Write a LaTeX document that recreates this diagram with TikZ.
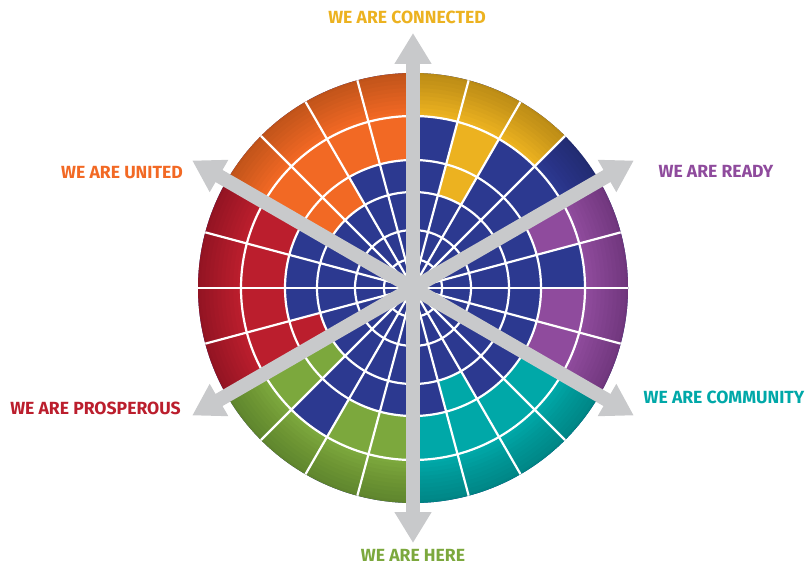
\documentclass[tikz,border=0pt]{standalone}
\usepackage{fontspec}
\setmainfont{Fira Sans}
\usetikzlibrary{arrows.meta}
\definecolor{wblue}{RGB}{44,57,144}
\definecolor{cyel}{RGB}{236,178,32}
\definecolor{corg}{RGB}{242,105,36}
\definecolor{cred}{RGB}{187,30,45}
\definecolor{cgrn}{RGB}{124,168,61}
\definecolor{cteal}{RGB}{0,168,168}
\definecolor{cpur}{RGB}{143,75,157}
\definecolor{agray}{RGB}{200,201,203}
\def\wcell#1#2#3#4{\fill[#1] (#4:#2) arc[start angle=#4, end angle=#4+15, radius=#2] -- ({#4+15}:#3) arc[start angle=#4+15, end angle=#4, radius=#3] -- cycle;}
\begin{document}
\begin{tikzpicture}[x=1pt,y=1pt,
  lab/.style={font=\bfseries\fontsize{17.6}{20}\selectfont, inner sep=0pt},
  grid/.style={draw=white, line width=2.2pt},
  arr/.style={draw=agray, line width=14pt, {Triangle[length=31pt,width=35pt]}-{Triangle[length=31pt,width=35pt]}}]
\useasboundingbox (0,0) rectangle (810,-567);
\begin{scope}[shift={(413,-288)}]
  \fill[wblue] (0,0) circle[radius=215];
  % yellow
  \foreach \a in {45,60,75} {\wcell{cyel}{172}{215}{\a}}
  \wcell{cyel}{128}{172}{60}
  \wcell{cyel}{96}{128}{60}
  % orange
  \foreach \a in {90,105,120,135} {\wcell{corg}{172}{215}{\a}\wcell{corg}{128}{172}{\a}}
  \foreach \a in {120,135} {\wcell{corg}{96}{128}{\a}}
  % red
  \foreach \a in {150,165,180,195} {\wcell{cred}{172}{215}{\a}\wcell{cred}{128}{172}{\a}}
  \wcell{cred}{96}{128}{195}
  % green
  \foreach \a in {210,225,240,255} {\wcell{cgrn}{172}{215}{\a}}
  \foreach \a in {210,240,255} {\wcell{cgrn}{128}{172}{\a}}
  \wcell{cgrn}{96}{128}{210}
  % teal
  \foreach \a in {270,285,300,315} {\wcell{cteal}{172}{215}{\a}\wcell{cteal}{128}{172}{\a}}
  \wcell{cteal}{96}{128}{285}
  % purple
  \foreach \a in {330,345,0,15} {\wcell{cpur}{172}{215}{\a}}
  \foreach \a in {330,345,15} {\wcell{cpur}{128}{172}{\a}}
  % rim darkening (soft)
  \foreach \r in {176,180,...,212,213.5} {
    \fill[black, opacity=0.018, even odd rule] (0,0) circle[radius=215] (0,0) circle[radius=\r];
  }
  % grid
  \foreach \r in {29,58,96,128,172} {\draw[grid] (0,0) circle[radius=\r];}
  \foreach \a in {0,15,...,345} {\draw[grid] (0,0) -- (\a:215);}
  % arrows
  \coordinate (aN) at (90:255);
  \coordinate (aS) at (270:255);
  \coordinate (aNE) at (30:255);
  \coordinate (aSW) at (210:255);
  \coordinate (aSE) at (-30:255);
  \coordinate (aNW) at (150:255);
  \draw[arr] (aN) -- (aS);
  \draw[arr] (aNE) -- (aSW);
  \draw[arr] (aSE) -- (aNW);
\end{scope}
\node[lab, text=cyel] (lconn) at (407,-17.5) {WE ARE CONNECTED};
\node[lab, text=corg] (lunit) at (122,-173) {WE ARE UNITED};
\node[lab, text=cpur] (lready) at (716,-171) {WE ARE READY};
\node[lab, text=cred] (lpros) at (95.5,-408) {WE ARE PROSPEROUS};
\node[lab, text=cteal] (lcomm) at (724,-397) {WE ARE COMMUNITY};
\node[lab, text=cgrn] (lhere) at (413,-555.5) {WE ARE HERE};
\end{tikzpicture}
\end{document}
